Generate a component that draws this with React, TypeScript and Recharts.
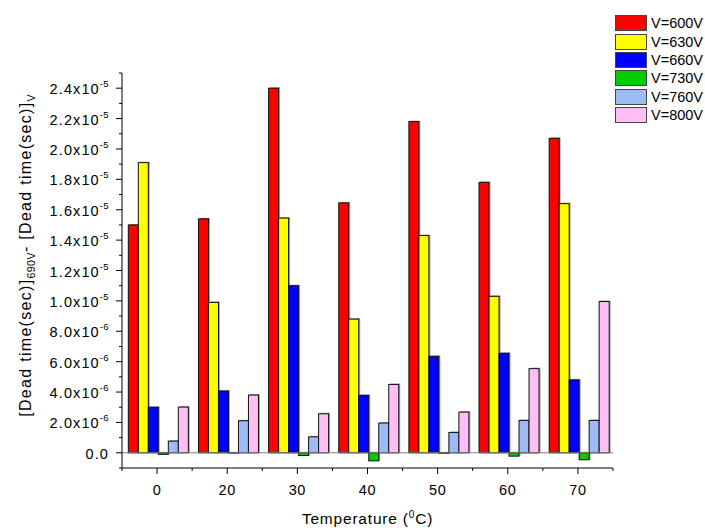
import React from 'react';
import { BarChart, Bar, XAxis, YAxis, ReferenceLine } from 'recharts';

// ---- Data ----
const temperatures = ['0', '20', '30', '40', '50', '60', '70'];
const v600 = [1.50e-5, 1.54e-5, 2.40e-5, 1.645e-5, 2.18e-5, 1.78e-5, 2.07e-5];
const v630 = [1.91e-5, 9.9e-6, 1.545e-5, 8.8e-6, 1.43e-5, 1.03e-5, 1.64e-5];
const v660 = [3.0e-6, 4.07e-6, 1.10e-5, 3.78e-6, 6.35e-6, 6.55e-6, 4.8e-6];
const v730 = [-1.0e-7, -2e-8, -1.8e-7, -5.3e-7, -3e-8, -2.2e-7, -4.6e-7];
const v760 = [7.7e-7, 2.11e-6, 1.05e-6, 1.96e-6, 1.34e-6, 2.13e-6, 2.13e-6];
const v800 = [3.01e-6, 3.8e-6, 2.57e-6, 4.5e-6, 2.68e-6, 5.54e-6, 9.96e-6];

const seriesKeys = ['v600', 'v630', 'v660', 'v730', 'v760', 'v800'];
const seriesNames = ['V=600V', 'V=630V', 'V=660V', 'V=730V', 'V=760V', 'V=800V'];
const seriesColors = ['#FF0000', '#FFFF00', '#0000FF', '#00CC00', '#9DBBF5', '#FFBFF5'];
const seriesValues = [v600, v630, v660, v730, v760, v800];

const yTicks = [
  -1e-6, 0, 1e-6, 2e-6, 3e-6, 4e-6, 5e-6, 6e-6, 7e-6, 8e-6, 9e-6, 1.0e-5, 1.1e-5, 1.2e-5,
  1.3e-5, 1.4e-5, 1.5e-5, 1.6e-5, 1.7e-5, 1.8e-5, 1.9e-5, 2.0e-5, 2.1e-5, 2.2e-5, 2.3e-5,
  2.4e-5, 2.5e-5,
];
const yDomain = [-1e-6, 2.5e-5];

const data = temperatures.map((t, i) => {
  const row: any = { temp: t };
  seriesKeys.forEach((k, j) => {
    row[k] = seriesValues[j][i];
  });
  return row;
});

// ---- Layout ----
const W = 705;
const H = 528;
const M = { top: 73, right: 92, bottom: 0, left: 0 };
const Y_AXIS_W = 122;
const X_AXIS_H = 60;
const PLOT_W = W - M.left - M.right - Y_AXIS_W;
const FONT = '"Liberation Sans", Arial, sans-serif';

function formatY(v: number) {
  if (Math.abs(v) < 1e-12) return { mant: '0.0', exp: null as string | null };
  const e = Math.floor(Math.log10(Math.abs(v)) + 1e-9);
  const m = v / Math.pow(10, e);
  return { mant: m.toFixed(1) + 'x10', exp: String(e) };
}

const YTick = (props: any) => {
  const { x, y, payload } = props;
  const v = payload.value as number;
  const idx = Math.round(v / 1e-6);
  const major = idx >= 0 && idx % 2 === 0 && idx <= 24;
  const f = formatY(v);
  return (
    <g>
      <line x1={x} x2={x - (major ? 6 : 3)} y1={y} y2={y} stroke="#000" strokeWidth={1} />
      {major && (
        <text
          x={x - 13}
          y={y + 6}
          textAnchor="end"
          fontSize={14.5}
          letterSpacing={1.1}
          fontFamily={FONT}
          fill="#000"
        >
          {f.mant}
          {f.exp !== null && (
            <tspan dy={-7} fontSize={9.5} letterSpacing={0.4}>
              {f.exp}
            </tspan>
          )}
        </text>
      )}
    </g>
  );
};

const XTick = (props: any) => {
  const { x, y, payload, index } = props;
  const band = PLOT_W / temperatures.length;
  const isLast = index === temperatures.length - 1;
  return (
    <g>
      <line x1={x} x2={x} y1={y} y2={y + 6} stroke="#000" strokeWidth={1} />
      <line x1={x - band / 2} x2={x - band / 2} y1={y} y2={y + 3} stroke="#000" strokeWidth={1} />
      {isLast && (
        <line x1={x + band / 2} x2={x + band / 2} y1={y} y2={y + 3} stroke="#000" strokeWidth={1} />
      )}
      <text
        x={x}
        y={y + 27}
        textAnchor="middle"
        fontSize={14.5}
        letterSpacing={0.6}
        fontFamily={FONT}
        fill="#000"
      >
        {payload.value}
      </text>
    </g>
  );
};

const ShadowBar = (props: any) => {
  const { x, y, width, height, fill } = props;
  if (x == null || width == null || height == null) return null;
  const top = height < 0 ? y + height : y;
  const h = Math.abs(height);
  return (
    <g>
      <rect x={x + 1.5} y={top - 1} width={width} height={h + 1} fill="#a8a8a8" />
      <rect x={x} y={top} width={width} height={h} fill={fill} stroke="#111" strokeWidth={1} />
    </g>
  );
};

export default function App() {
  return (
    <div style={{ position: 'absolute', left: 0, top: 0, width: W, height: H, background: '#fff' }}>
      <BarChart
        width={W}
        height={H}
        data={data}
        margin={M}
        barCategoryGap="9%"
        barGap={0}
      >
        <XAxis
          dataKey="temp"
          height={X_AXIS_H}
          axisLine={{ stroke: '#000', strokeWidth: 1 }}
          tickLine={false}
          tickSize={0}
          tickMargin={0}
          tick={<XTick />}
          interval={0}
        />
        <YAxis
          width={Y_AXIS_W}
          domain={yDomain}
          ticks={yTicks}
          type="number"
          allowDataOverflow
          axisLine={{ stroke: '#000', strokeWidth: 1 }}
          tickLine={false}
          tickSize={0}
          tickMargin={0}
          tick={<YTick />}
          interval={0}
        />
        <ReferenceLine y={0} stroke="#808080" strokeWidth={1} />
        {seriesKeys.map((k, j) => (
          <Bar
            key={k}
            dataKey={k}
            name={seriesNames[j]}
            fill={seriesColors[j]}
            isAnimationActive={false}
            shape={<ShadowBar />}
          />
        ))}
      </BarChart>

      <svg
        width={W}
        height={H}
        style={{ position: 'absolute', left: 0, top: 0, pointerEvents: 'none' }}
      >
        <text
          x={367.5}
          y={524}
          textAnchor="middle"
          fontSize={15.5}
          letterSpacing={0.8}
          fontFamily={FONT}
          fill="#000"
        >
          Temperature (
          <tspan dy={-6} fontSize={10}>0</tspan>
          <tspan dy={6} fontSize={15.5}>C)</tspan>
        </text>
        <text
          x={30.5}
          y={255}
          transform="rotate(-90, 30.5, 255)"
          textAnchor="middle"
          fontSize={16}
          letterSpacing={1.3}
          fontFamily={FONT}
          fill="#000"
        >
          [Dead time(sec)]
          <tspan dy={4} fontSize={10.5} letterSpacing={0.5}>690V</tspan>
          <tspan dy={-4} fontSize={16}>- [Dead time(sec)]</tspan>
          <tspan dy={4} fontSize={10.5}>V</tspan>
        </text>
      </svg>

      <div style={{ position: 'absolute', left: 615, top: 14, fontFamily: FONT }}>
        {seriesNames.map((n, j) => (
          <div
            key={n}
            style={{ display: 'flex', alignItems: 'center', height: 18.4, whiteSpace: 'nowrap' }}
          >
            <div
              style={{
                width: 30,
                height: 14,
                background: seriesColors[j],
                border: '1.5px solid #444',
                boxSizing: 'content-box',
              }}
            />
            <span style={{ marginLeft: 4, fontSize: 14.5, color: '#000', lineHeight: '16px' }}>{n}</span>
          </div>
        ))}
      </div>
    </div>
  );
}
